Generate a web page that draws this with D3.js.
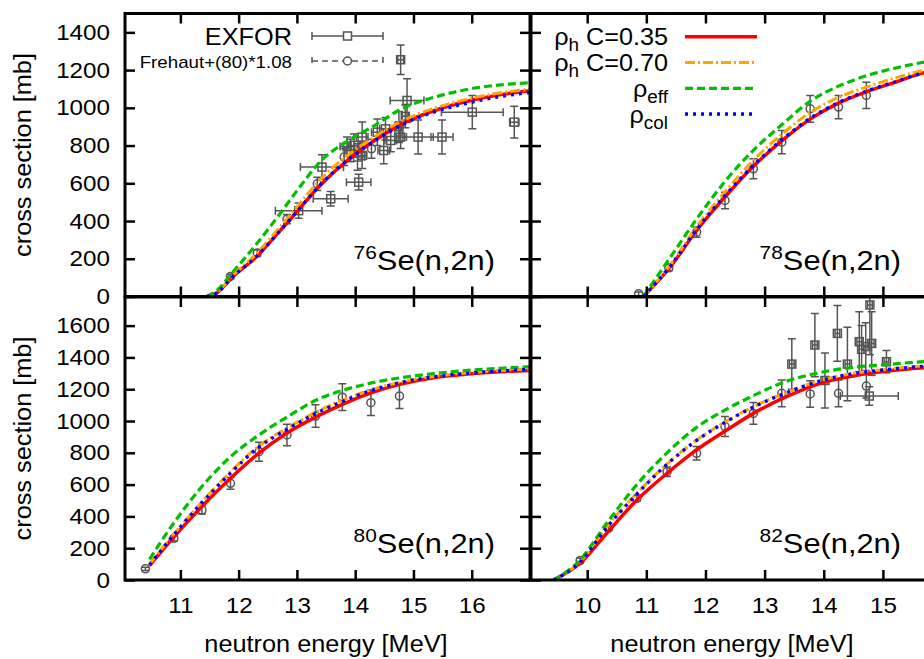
<!DOCTYPE html>
<html>
<head>
<meta charset="utf-8">
<script src="https://cdn.jsdelivr.net/npm/d3@7"></script>
<style>
  body { margin: 0; background: #fff; }
  svg { display: block; font-family: "Liberation Sans", Arial, sans-serif; }
</style>
</head>
<body>
<svg id="chart" width="924" height="659"></svg>
<script>
// --- model curves, energies in MeV, cross sections in mb ---
// 76Se(n,2n)
const se76Energy = [11.45, 11.6, 11.9, 12.3, 12.7, 13.0, 13.4, 13.9, 14.3, 14.8, 15.4, 16.0, 16.5, 17.0];
const se76RhoH035 = [0, 14, 105, 210, 345, 450, 590, 730, 820, 915, 990, 1040, 1070, 1090];
const se76RhoH070 = [0, 16, 112, 225, 365, 475, 620, 755, 840, 930, 1002, 1052, 1080, 1098];
const se76RhoEff  = [0, 25, 130, 275, 435, 560, 715, 830, 900, 995, 1060, 1102, 1122, 1133];
const se76RhoCol  = [0, 14, 105, 210, 345, 450, 592, 730, 818, 910, 982, 1030, 1060, 1082];

// 78Se(n,2n)
const se78Energy = [10.95, 11.4, 11.85, 12.33, 12.81, 13.29, 13.77, 14.25, 14.72, 15.2, 15.7, 16.05];
const se78RhoH035 = [0, 155, 350, 527, 690, 825, 940, 1025, 1085, 1135, 1186, 1205];
const se78RhoH070 = [0, 165, 370, 555, 722, 860, 975, 1055, 1110, 1158, 1198, 1215];
const se78RhoEff  = [0, 205, 410, 610, 775, 910, 1035, 1115, 1170, 1210, 1242, 1258];
const se78RhoCol  = [0, 158, 355, 535, 695, 830, 945, 1028, 1088, 1137, 1186, 1204];

// 80Se(n,2n)
const se80Energy = [10.47, 10.89, 11.34, 11.86, 12.32, 12.83, 13.35, 13.81, 14.26, 14.78, 15.35, 15.93, 16.5, 17.0];
const se80RhoH035 = [90, 272, 451, 640, 790, 925, 1030, 1110, 1175, 1232, 1272, 1295, 1310, 1318];
const se80RhoH070 = [100, 290, 480, 680, 835, 955, 1060, 1135, 1195, 1245, 1280, 1303, 1318, 1328];
const se80RhoEff  = [130, 360, 575, 775, 905, 1025, 1135, 1195, 1238, 1272, 1298, 1318, 1332, 1342];
const se80RhoCol  = [95, 285, 475, 672, 828, 948, 1052, 1128, 1190, 1242, 1278, 1300, 1315, 1325];

// 82Se(n,2n)
const se82Energy = [9.43, 9.88, 10.33, 10.84, 11.35, 11.85, 12.36, 12.81, 13.37, 13.94, 14.5, 15.06, 15.69, 16.05];
const se82RhoH035 = [0, 105, 294, 503, 671, 818, 943, 1048, 1153, 1237, 1283, 1314, 1335, 1343];
const se82RhoH070 = [0, 115, 335, 545, 730, 880, 1000, 1090, 1180, 1255, 1300, 1325, 1346, 1352];
const se82RhoEff  = [0, 126, 357, 600, 800, 960, 1075, 1160, 1250, 1305, 1338, 1355, 1373, 1378];
const se82RhoCol  = [0, 112, 330, 540, 728, 878, 998, 1088, 1178, 1252, 1298, 1323, 1344, 1350];

// --- measurements ---
// EXFOR: [E, sigma, dE, dSigma]
const se76Exfor = [
  [14.78, 1255, 0.05, 78], [14.89, 1039, 0.29, 115], [14.86, 955, 0.05, 60],
  [15.08, 845, 0.26, 90], [15.49, 845, 0.19, 90], [16.01, 977, 0.53, 88],
  [16.73, 924, 0.08, 84], [13.43, 686, 0.37, 65], [14.06, 606, 0.21, 42],
  [13.58, 518, 0.30, 38], [13.03, 455, 0.40, 40], [14.12, 845, 0.10, 80],
  [14.38, 871, 0.10, 70], [14.52, 889, 0.10, 60], [14.61, 827, 0.10, 60],
  [14.78, 845, 0.10, 60], [13.98, 801, 0.10, 60], [13.92, 774, 0.10, 60],
  [14.12, 748, 0.08, 70], [14.49, 774, 0.10, 70], [14.75, 900, 0.05, 80],
  [14.04, 739, 0.12, 70], [13.86, 795, 0.12, 50]
];
const se82Exfor = [
  [13.46, 1358, 0.04, 159], [13.85, 1478, 0.04, 199], [14.02, 1255, 0.04, 173],
  [14.23, 1551, 0.04, 175], [14.40, 1358, 0.04, 231], [14.60, 1499, 0.04, 189],
  [14.64, 1451, 0.04, 150], [14.71, 1468, 0.04, 150], [14.78, 1730, 0.04, 314],
  [14.81, 1488, 0.04, 200], [15.06, 1373, 0.04, 70], [14.77, 1157, 0.49, 58]
];
// Frehaut+(80)*1.08: [E, sigma, dSigma]
const se76Frehaut = [[11.86, 106, 12], [12.32, 230, 18], [12.83, 410, 25], [13.35, 597, 35], [13.81, 739, 45], [14.28, 783, 50], [14.75, 871, 55]];
const se78Frehaut = [[10.87, 14, 10], [11.38, 152, 16], [11.85, 341, 27], [12.33, 509, 44], [12.81, 677, 53], [13.29, 818, 62], [13.77, 995, 71], [14.25, 1004, 62], [14.72, 1066, 70]];
const se80Frehaut = [[10.40, 70, 10], [10.89, 262, 17], [11.37, 440, 25], [11.86, 608, 37], [12.35, 807, 60], [12.83, 912, 68], [13.32, 1031, 71], [13.78, 1150, 84], [14.27, 1115, 80], [14.76, 1157, 79]];
const se82Frehaut = [[9.88, 122, 15], [10.36, 325, 15], [10.84, 514, 18], [11.35, 681, 30], [11.85, 797, 42], [12.33, 965, 63], [12.81, 1048, 68], [13.29, 1174, 84], [13.77, 1170, 84], [14.25, 1174, 84], [14.72, 1220, 75]];

// ticks
const xTicksLeft = [11, 12, 13, 14, 15, 16];
const xTicksRight = [10, 11, 12, 13, 14, 15];
const yTicksTop = [0, 200, 400, 600, 800, 1000, 1200, 1400];
const yTicksBottom = [0, 200, 400, 600, 800, 1000, 1200, 1400, 1600];

const seriesNames = ['ρh C=0.35', 'ρh C=0.70', 'ρeff', 'ρcol'];

const svg = d3.select('#chart');
const gray = '#555';
const styles = [
  { color: '#ff0000', dash: null, width: 3.5 },
  { color: '#ffa500', dash: '10,3,2,3', width: 3 },
  { color: '#00c000', dash: '8,4', width: 3.2 },
  { color: '#0000ff', dash: '3,5', width: 3.3 }
];

function stretch(sel, k) {
  sel.each(function () {
    const len = this.getComputedTextLength();
    d3.select(this).attr('textLength', len * k).attr('lengthAdjust', 'spacingAndGlyphs');
  });
}

const panels = [
  { id: 'p76', mass: '76', xr: [125, 530], yr: [296.5, 13.5], xd: [10.05, 17.0], yd: [0, 1500],
    xt: xTicksLeft, yt: yTicksTop, xl: false, yl: true,
    energy: se76Energy, curves: [se76RhoH035, se76RhoH070, se76RhoEff, se76RhoCol],
    exfor: se76Exfor, frehaut: se76Frehaut },
  { id: 'p78', mass: '78', xr: [531, 945], yr: [296.5, 13.5], xd: [9.05, 16.05], yd: [0, 1500],
    xt: xTicksRight, yt: yTicksTop, xl: false, yl: false,
    energy: se78Energy, curves: [se78RhoH035, se78RhoH070, se78RhoEff, se78RhoCol],
    exfor: [], frehaut: se78Frehaut },
  { id: 'p80', mass: '80', xr: [125, 530], yr: [580, 297], xd: [10.05, 17.0], yd: [0, 1780],
    xt: xTicksLeft, yt: yTicksBottom, xl: true, yl: true,
    energy: se80Energy, curves: [se80RhoH035, se80RhoH070, se80RhoEff, se80RhoCol],
    exfor: [], frehaut: se80Frehaut },
  { id: 'p82', mass: '82', xr: [531, 945], yr: [580, 297], xd: [9.05, 16.05], yd: [0, 1780],
    xt: xTicksRight, yt: yTicksBottom, xl: true, yl: false,
    energy: se82Energy, curves: [se82RhoH035, se82RhoH070, se82RhoEff, se82RhoCol],
    exfor: se82Exfor, frehaut: se82Frehaut }
];

const defs = svg.append('defs');

panels.forEach(p => {
  const x = d3.scaleLinear().domain(p.xd).range(p.xr);
  const y = d3.scaleLinear().domain(p.yd).range(p.yr);
  const [x0, x1] = p.xr;
  const [y1, y0] = p.yr;

  defs.append('clipPath').attr('id', 'clip-' + p.id)
    .append('rect').attr('x', x0).attr('y', y0).attr('width', x1 - x0).attr('height', y1 - y0);

  const g = svg.append('g');
  const plot = g.append('g').attr('clip-path', `url(#clip-${p.id})`);

  // EXFOR points: square with x and y error bars
  const cap = 4;
  const ex = plot.append('g').attr('stroke', gray).attr('stroke-width', 1.5).attr('fill', 'none');
  p.exfor.forEach(d => {
    const cx = x(d[0]), cy = y(d[1]);
    const xa = x(d[0] - d[2]), xb = x(d[0] + d[2]);
    const ya = y(d[1] - d[3]), yb = y(d[1] + d[3]);
    ex.append('path').attr('d',
      `M${xa},${cy}H${xb}M${xa},${cy - cap}V${cy + cap}M${xb},${cy - cap}V${cy + cap}` +
      `M${cx},${ya}V${yb}M${cx - cap},${ya}H${cx + cap}M${cx - cap},${yb}H${cx + cap}`);
    ex.append('rect').attr('x', cx - 4).attr('y', cy - 4).attr('width', 8).attr('height', 8);
  });

  // Frehaut points: circle with y error bars
  const fr = plot.append('g').attr('stroke', gray).attr('stroke-width', 1.5).attr('fill', 'none');
  p.frehaut.forEach(d => {
    const cx = x(d[0]), cy = y(d[1]);
    const ya = y(d[1] - d[2]), yb = y(d[1] + d[2]);
    fr.append('path').attr('d', `M${cx},${ya}V${yb}M${cx - cap},${ya}H${cx + cap}M${cx - cap},${yb}H${cx + cap}`);
    fr.append('circle').attr('cx', cx).attr('cy', cy).attr('r', 4);
  });

  // model curves
  const line = d3.line().x(d => x(d[0])).y(d => y(d[1])).curve(d3.curveMonotoneX);
  p.curves.forEach((vals, i) => {
    const pts = p.energy.map((e, k) => [e, vals[k]]);
    plot.append('path').datum(pts)
      .attr('d', line)
      .attr('fill', 'none')
      .attr('stroke', styles[i].color)
      .attr('stroke-width', styles[i].width)
      .attr('stroke-dasharray', styles[i].dash);
  });

  // axes with inward ticks, mirrored
  const fmt = d3.format('d');
  const axB = g.append('g').attr('transform', `translate(0,${y1})`)
    .call(d3.axisBottom(x).tickValues(p.xt).tickSizeInner(-10).tickSizeOuter(0).tickPadding(17)
      .tickFormat(p.xl ? fmt : ''));
  const axT = g.append('g').attr('transform', `translate(0,${y0})`)
    .call(d3.axisTop(x).tickValues(p.xt).tickSizeInner(-10).tickSizeOuter(0).tickFormat(''));
  const axL = g.append('g').attr('transform', `translate(${x0},0)`)
    .call(d3.axisLeft(y).tickValues(p.yt).tickSizeInner(-10).tickSizeOuter(0).tickPadding(15)
      .tickFormat(p.yl ? fmt : ''));
  const axR = g.append('g').attr('transform', `translate(${x1},0)`)
    .call(d3.axisRight(y).tickValues(p.yt).tickSizeInner(-10).tickSizeOuter(0).tickFormat(''));
  [axB, axT, axL, axR].forEach(a => {
    a.attr('font-family', null).attr('font-size', 22);
    a.select('.domain').remove();
    a.selectAll('.tick line').attr('stroke', '#000').attr('stroke-width', 2.5);
    a.selectAll('.tick text').attr('fill', '#000');
  });
  stretch(axB.selectAll('.tick text'), 1.1);
  stretch(axL.selectAll('.tick text'), 1.1);

  // frame
  g.append('rect').attr('x', x0).attr('y', y0).attr('width', x1 - x0).attr('height', y1 - y0)
    .attr('fill', 'none').attr('stroke', '#000').attr('stroke-width', 3);

  // reaction label
  const lab = g.append('text').attr('x', x0 + 370).attr('y', y1 - 27)
    .attr('text-anchor', 'end').attr('font-size', 28);
  lab.append('tspan').attr('font-size', 19).attr('dy', -11).text(p.mass);
  lab.append('tspan').attr('dy', 11).text('Se(n,2n)');
  stretch(lab, 1.1);

  // axis titles
  if (p.yl) {
    const t = g.append('text')
      .attr('transform', `translate(31,${(y0 + y1) / 2}) rotate(-90)`)
      .attr('text-anchor', 'middle').attr('font-size', 23).text('cross section [mb]');
    stretch(t, 1.1);
  }
  if (p.xl) {
    const t = g.append('text').attr('x', x0 + 201).attr('y', 652)
      .attr('text-anchor', 'middle').attr('font-size', 23).text('neutron energy [MeV]');
    stretch(t, 1.1);
  }

  // legends
  if (p.id === 'p76') {
    const lg = g.append('g');
    const t1 = lg.append('text').attr('x', 292).attr('y', 45).attr('text-anchor', 'end')
      .attr('font-size', 23).text('EXFOR');
    const t2 = lg.append('text').attr('x', 292).attr('y', 68).attr('text-anchor', 'end')
      .attr('font-size', 17).text('Frehaut+(80)*1.08');
    stretch(t1, 1.1);
    stretch(t2, 1.1);
    const sx0 = 312, sx1 = 383, sxm = (sx0 + sx1) / 2;
    lg.append('path').attr('d', `M${sx0},36H${sx1}M${sx0},32V40M${sx1},32V40`)
      .attr('stroke', gray).attr('stroke-width', 1.5).attr('fill', 'none');
    lg.append('rect').attr('x', sxm - 4).attr('y', 32).attr('width', 8).attr('height', 8)
      .attr('stroke', gray).attr('stroke-width', 1.5).attr('fill', '#fff');
    lg.append('path').attr('d', `M${sx0},61H${sx1}M${sx0},57V65M${sx1},57V65`)
      .attr('stroke', gray).attr('stroke-width', 1.5).attr('stroke-dasharray', '6,4').attr('fill', 'none');
    lg.append('circle').attr('cx', sxm).attr('cy', 61).attr('r', 4)
      .attr('stroke', gray).attr('stroke-width', 1.5).attr('fill', '#fff');
  }
  if (p.id === 'p78') {
    const lg = g.append('g');
    const rowY = [36.7, 62.5, 88.3, 114];
    seriesNames.forEach((name, i) => {
      const t = lg.append('text').attr('x', 668).attr('y', rowY[i] + 8.5)
        .attr('text-anchor', 'end').attr('font-size', 24);
      const sub = name.slice(1).split(' ');
      t.append('tspan').text('ρ');
      t.append('tspan').attr('font-size', 18).attr('dy', 6).text(sub[0]);
      if (sub[1]) t.append('tspan').attr('dy', -6).text(' ' + sub[1]);
      stretch(t, 1.05);
      lg.append('line').attr('x1', 685).attr('x2', 757).attr('y1', rowY[i]).attr('y2', rowY[i])
        .attr('stroke', styles[i].color).attr('stroke-width', styles[i].width)
        .attr('stroke-dasharray', styles[i].dash);
    });
  }
});
</script>
</body>
</html>
